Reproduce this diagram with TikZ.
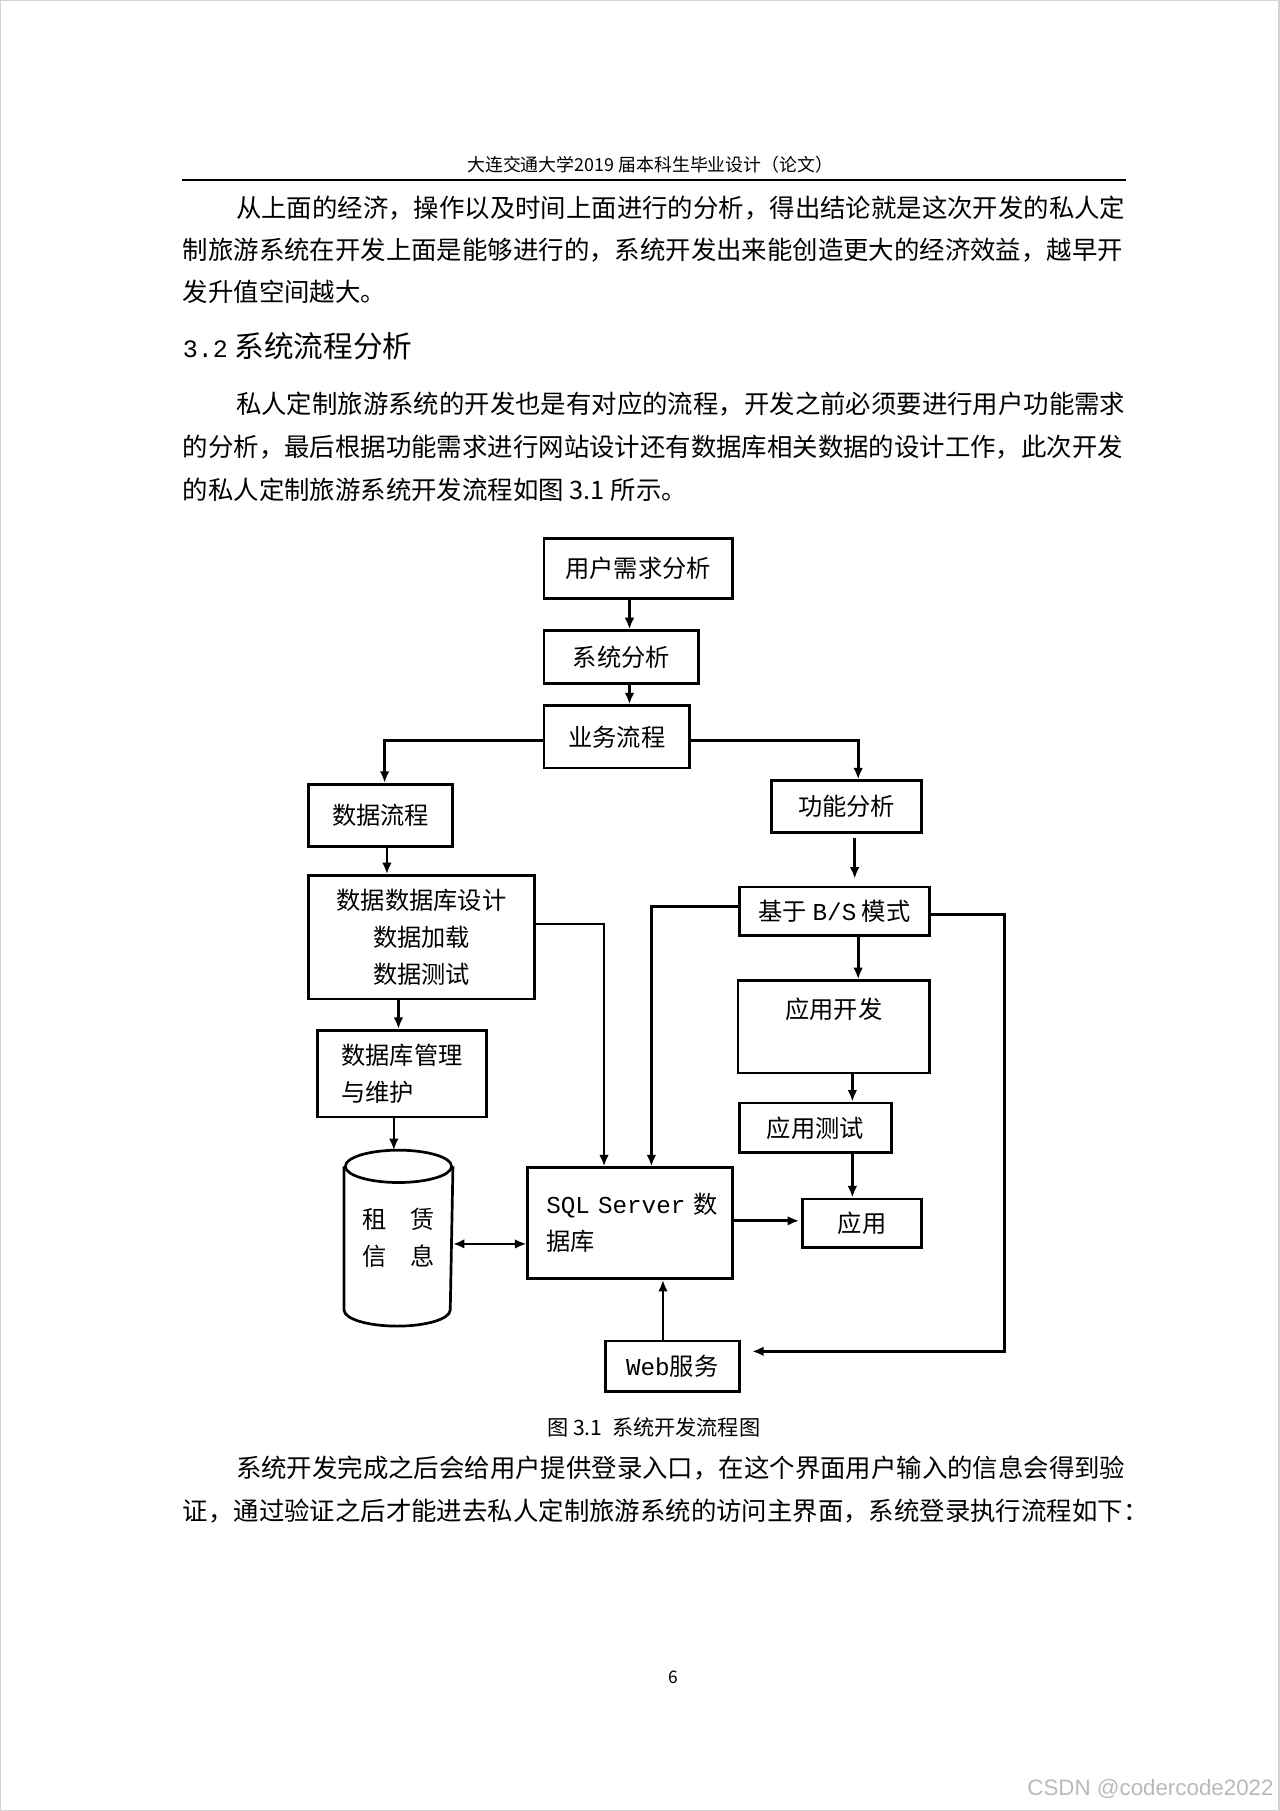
\documentclass[tikz,border=0pt]{standalone}
\usepackage{fontspec}
\setmainfont{Noto Sans CJK SC}
\newfontfamily\monofont{Liberation Mono}
\newfontfamily\wmfont{Liberation Sans}
\usetikzlibrary{arrows.meta,calc}
\XeTeXlinebreaklocale "zh"
\XeTeXlinebreakskip=0pt plus 3pt minus 1pt

\begin{document}
\begin{tikzpicture}[x=0.6pt,y=-0.6pt,
	box/.style={draw,line width=1.4pt,inner sep=0pt,align=center,font=\fontsize{12.6pt}{19.2pt}\selectfont},
	arr/.style={line width=1.4pt,-{Latex[length=6pt,width=5pt]}},
	body/.style={anchor=west,inner sep=0pt,font=\fontsize{13.2pt}{16pt}\selectfont}]

	\useasboundingbox (0,0) rectangle (1108,1568);
	\draw[gray!35,line width=0.8pt] (0.5,0.5) rectangle (1107.5,1567.5);

	\node[font=\fontsize{9.3pt}{11pt}\selectfont] (head) at (563,143) {大连交通大学2019 届本科生毕业设计（论文）};
	\draw[line width=0.8pt] (158,156) -- (975,156);

	\node[body] (p1a) at (204,180) {\makebox[462.6pt][s]{从上面的经济，操作以及时间上面进行的分析，得出结论就是这次开发的私人定}};
	\node[body] (p1b) at (158,217) {\makebox[490.2pt][s]{制旅游系统在开发上面是能够进行的，系统开发出来能创造更大的经济效益，越早开}};
	\node[body] (p1c) at (158,253) {发升值空间越大。};

	\node[anchor=west,inner sep=0pt,font=\fontsize{15.4pt}{18pt}\selectfont] (sec) at (158,300) {{\monofont\fontsize{13pt}{16pt}\selectfont 3.2} 系统流程分析};

	\node[body] (p2a) at (204,350) {\makebox[462.6pt][s]{私人定制旅游系统的开发也是有对应的流程，开发之前必须要进行用户功能需求}};
	\node[body] (p2b) at (158,387) {\makebox[490.2pt][s]{的分析，最后根据功能需求进行网站设计还有数据库相关数据的设计工作，此次开发}};
	\node[body] (p2c) at (158,424) {的私人定制旅游系统开发流程如图 3.1 所示。};

	\node[box,minimum width=97.8pt,minimum height=31.2pt] (req) at (552.5,492) {用户需求分析};
	\node[box,minimum width=80.4pt,minimum height=27.6pt] (sys) at (538,569) {系统分析};
	\node[box,minimum width=75.6pt,minimum height=32.4pt] (biz) at (534,638) {业务流程};
	\node[box,minimum width=75pt,minimum height=32.4pt] (dflow) at (329.5,706) {数据流程};
	\node[box,minimum width=78pt,minimum height=27pt] (func) at (733,698.5) {功能分析};
	\node[box,minimum width=117.6pt,minimum height=64.2pt] (dbdesign) at (365,811.5) {数据数据库设计\\数据加载\\数据测试};
	\node[box,minimum width=99pt,minimum height=25.2pt] (bs) at (722.5,789) {基于 {\monofont B/S} 模式};
	\node[box,minimum width=99.6pt,minimum height=48pt] (appdev) at (722,889) {应用开发\\\mbox{}};
	\node[box,minimum width=87.6pt,minimum height=45pt,align=left] (dbmaint) at (348,929.5) {数据库管理\\与维护};
	\node[box,minimum width=79.2pt,minimum height=25.8pt] (apptest) at (706,976.5) {应用测试};
	\node[box,draw=none,minimum width=55.2pt,minimum height=90pt] (rent) at (345,1072) {租\quad 赁\\信\quad 息};
	\node[box,minimum width=106.2pt,minimum height=57.6pt,text width=87pt,align=left] (sql) at (545.5,1059) {\makebox[87pt][s]{{\monofont SQL} {\monofont Server} 数}\\据库};
	\node[box,minimum width=61.8pt,minimum height=25.2pt] (app) at (746.5,1059) {应用};
	\node[box,minimum width=69.6pt,minimum height=26.4pt] (web) at (582,1183) {{\monofont Web}服务};

	% cylinder
	\draw[line width=1.4pt] ([yshift=-8.4pt]rent.north) ellipse [x radius=27.6pt, y radius=8.4pt];
	\draw[line width=1.4pt] ([yshift=-8.4pt]rent.north west) -- ([yshift=8.4pt]rent.south west)
		arc [start angle=180, end angle=360, x radius=27.6pt, y radius=8.4pt] -- ([yshift=-8.4pt]rent.north east);

	\draw[arr] ([xshift=-4.5pt]req.south) -- ([xshift=-4.5pt]req.south |- sys.north);
	\draw[arr] ([xshift=4.2pt]sys.south) -- ([xshift=4.2pt]sys.south |- biz.north);
	\draw[arr] ([yshift=-1.8pt]biz.west) -| ([xshift=2.1pt]dflow.north);
	\draw[arr] ([yshift=-1.8pt]biz.east) -| ([xshift=6pt]func.north);
	\draw[arr] ([xshift=3.3pt]dflow.south) -- ([xshift=3.3pt]dflow.south |- dbdesign.north);
	\draw[arr,shorten >=3.6pt,shorten <=1.8pt] ([xshift=4.2pt]func.south) -- ([xshift=4.2pt]func.south |- bs.north);
	\draw[arr] ([yshift=6.9pt]dbdesign.east) -| ([xshift=-13.5pt]sql.north);
	\draw[arr] ([yshift=2.4pt]bs.west) -| ([xshift=11.1pt]sql.north);
	\draw[arr] ([xshift=12.3pt]bs.south) -- ([xshift=12.3pt]bs.south |- appdev.north);
	\coordinate (loop) at (870,1170);
	\draw[arr,shorten >=6pt] ([yshift=-1.8pt]bs.east) -| (loop) -- (loop -| web.east);
	\draw[arr] ([xshift=-12pt]dbdesign.south) -- ([xshift=-12pt]dbdesign.south |- dbmaint.north);
	\draw[arr] ([xshift=9.6pt]appdev.south) -- ([xshift=9.6pt]appdev.south |- apptest.north);
	\draw[arr] ([xshift=-4.2pt]dbmaint.south) -- ([xshift=-4.2pt]dbmaint.south |- rent.north);
	\draw[arr] ([xshift=19.2pt]apptest.south) -- ([xshift=19.2pt]apptest.south |- app.north);
	\draw[line width=1.4pt,{Latex[length=6pt,width=5pt]}-{Latex[length=6pt,width=5pt]}] ([yshift=-3pt]rent.east) -- ([yshift=-3pt]rent.east -| sql.west);
	\draw[arr,shorten >=1.2pt] ([yshift=1.2pt]sql.east) -- ([yshift=1.2pt]sql.east -| app.west);
	\draw[arr] ([xshift=-4.8pt]web.north) -- ([xshift=-4.8pt]web.north |- sql.south);

	\node[font=\fontsize{11pt}{13pt}\selectfont] (cap) at (566,1236) {图 3.1\ \ 系统开发流程图};

	\node[body] (p3a) at (204,1271) {\makebox[462.6pt][s]{系统开发完成之后会给用户提供登录入口，在这个界面用户输入的信息会得到验}};
	\node[body] (p3b) at (158,1308) {\makebox[490.2pt][s]{证，通过验证之后才能进去私人定制旅游系统的访问主界面，系统登录执行流程如下：}};

	\node[font=\fontsize{9pt}{11pt}\selectfont] (pg) at (583,1452) {6};
	\node[anchor=east,inner sep=0pt,font=\wmfont\fontsize{11.6pt}{14pt}\selectfont,text=gray!55] (wm) at (1103,1549) {CSDN @codercode2022};
\end{tikzpicture}
\end{document}
